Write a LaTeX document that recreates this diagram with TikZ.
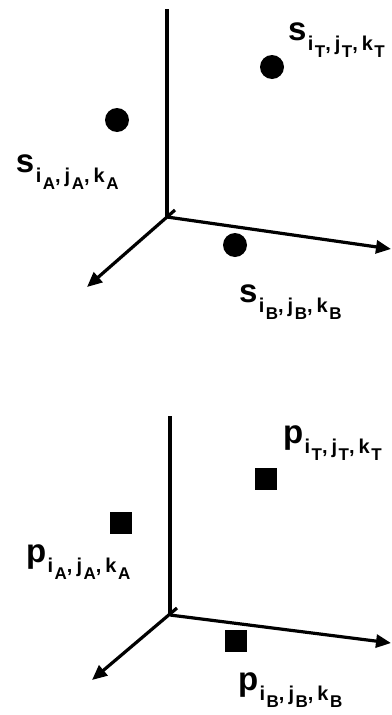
\documentclass[tikz,border=0pt]{standalone}
\usepackage{fontspec}
\setmainfont{Liberation Sans}
\usetikzlibrary{arrows.meta}
% label s_{i_X,j_X,k_X}: big letter, index row, sub-index
\newcommand{\subidx}[1]{\hspace{1.5pt}\raisebox{-7pt}{\fontsize{17}{17}\selectfont #1}}
\newcommand{\ptlabel}[2]{%
  {\fontsize{33}{33}\selectfont #1}\hspace{1.5pt}%
  \raisebox{-10pt}{\fontsize{20}{20}\selectfont
    i\subidx{#2},\hspace{4pt}j\subidx{#2},\hspace{4pt}k\subidx{#2}}}

\begin{document}
\begin{tikzpicture}[x=1pt,y=-1pt,line join=round]
\tikzset{
  axis/.style={line width=3.2pt,-{Triangle[length=15pt,width=13pt]}},
  spine/.style={line width=3.2pt},
  dot/.style={circle,fill=black,inner sep=0pt,minimum size=24pt},
  blk/.style={rectangle,fill=black,inner sep=0pt,minimum size=22pt},
  lbl/.style={anchor=base west,inner sep=0pt,outer sep=0pt,font=\bfseries}
}
\useasboundingbox (0,0) rectangle (391,715);
% upper frame: axes
\coordinate (o1) at (167,217);
\coordinate (z1) at (167,9);
\coordinate (x1) at (391,249);
\coordinate (y1) at (87,287);
\coordinate (t1) at (175,210);
\draw[spine] (o1) -- (z1);
\draw[axis] (o1) -- (x1);
\draw[axis] (t1) -- (y1);
% upper frame: points s
\foreach \n/\px/\py in {T/272/67, A/117/120, B/235/245}{
  \node[dot] (s\n) at (\px,\py) {};}
\node[lbl] (lsT) at (288,40)  {\ptlabel{s}{T}};
\node[lbl] (lsA) at (16,172)  {\ptlabel{s}{A}};
\node[lbl] (lsB) at (239,302) {\ptlabel{s}{B}};
% lower frame: axes
\coordinate (o2) at (170,615);
\coordinate (z2) at (170,416);
\coordinate (x2) at (391,643);
\coordinate (y2) at (92,680);
\coordinate (t2) at (177,608);
\draw[spine] (o2) -- (z2);
\draw[axis] (o2) -- (x2);
\draw[axis] (t2) -- (y2);
% lower frame: points p
\foreach \n/\px/\py in {T/266/479, A/121/523, B/236/641}{
  \node[blk] (p\n) at (\px,\py) {};}
\node[lbl] (lpT) at (283,443) {\ptlabel{p}{T}};
\node[lbl] (lpA) at (26,562)  {\ptlabel{p}{A}};
\node[lbl] (lpB) at (238,690) {\ptlabel{p}{B}};
\end{tikzpicture}
\end{document}
